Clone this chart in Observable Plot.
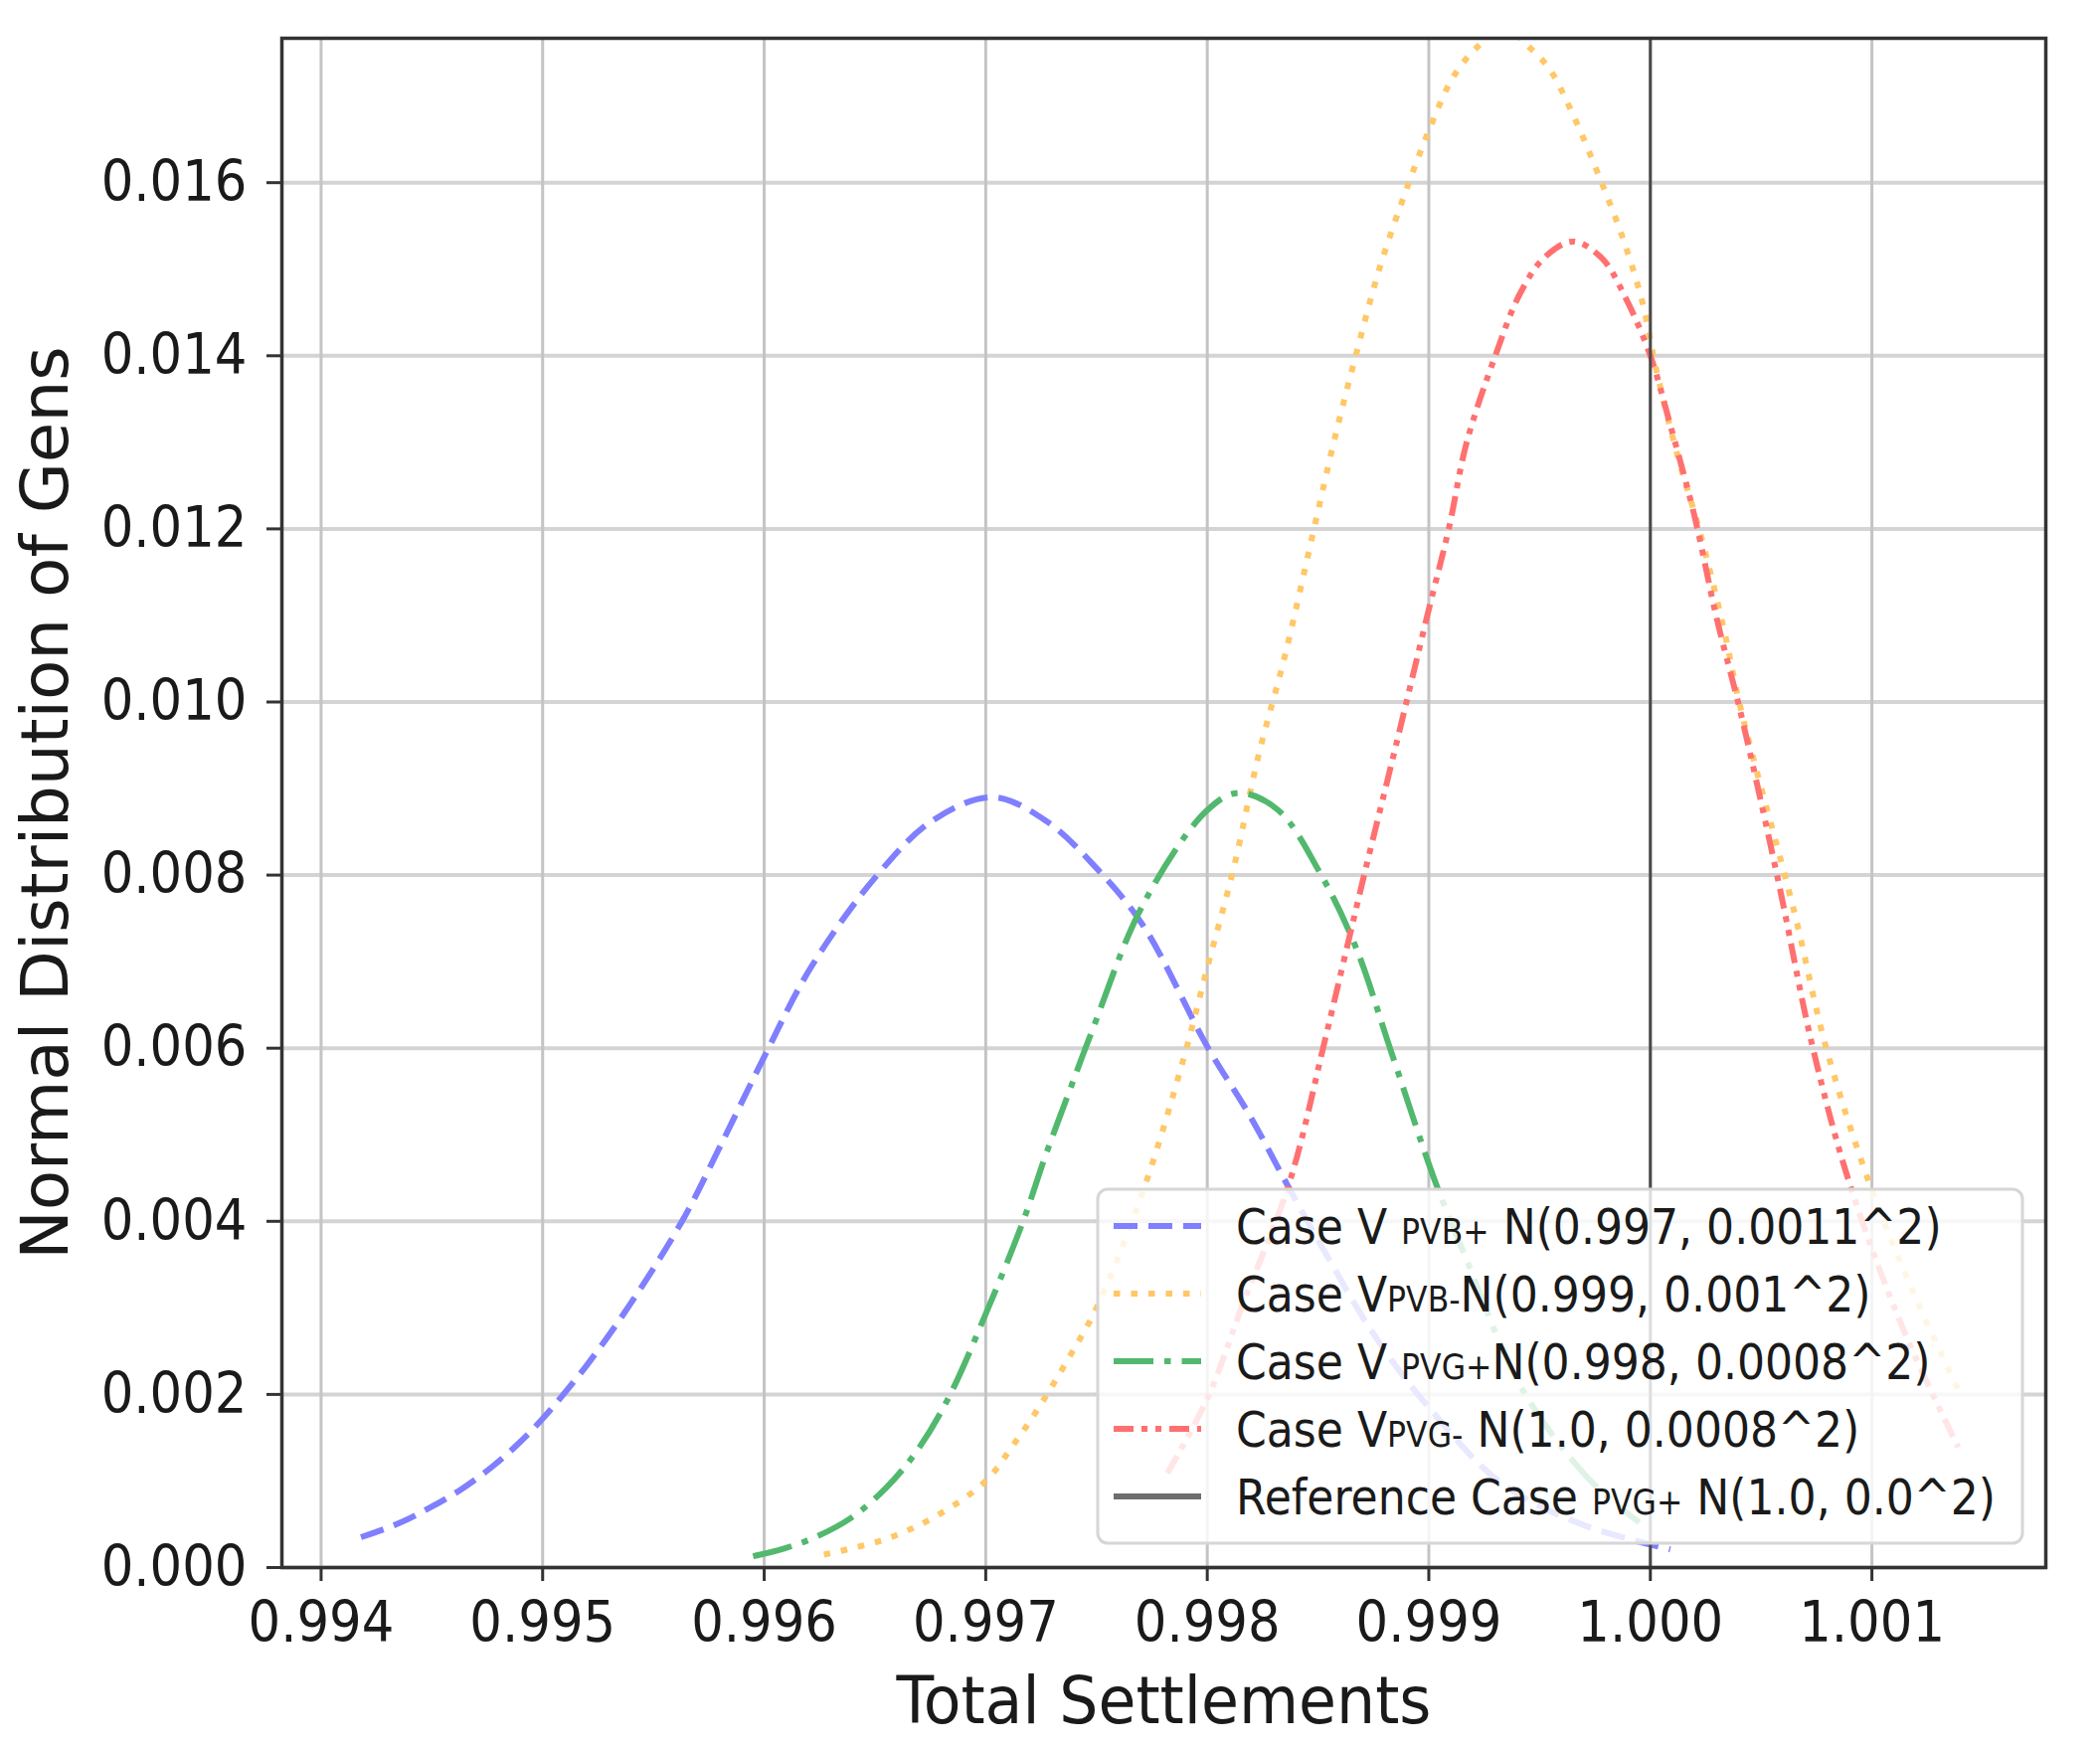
<!DOCTYPE html>
<html><head><meta charset="utf-8">
<script src="https://cdn.jsdelivr.net/npm/d3@7"></script>
<script src="https://cdn.jsdelivr.net/npm/@observablehq/plot@0.6"></script>
<style>
html,body{margin:0;padding:0;background:#fff;}
svg text{font-family:"DejaVu Sans",sans-serif;}
</style></head><body><div id="chart"></div>
<script>
// ---- data ----
const xTicks = [0.994, 0.995, 0.996, 0.997, 0.998, 0.999, 1.000, 1.001];
const yTicks = [0, 0.002, 0.004, 0.006, 0.008, 0.010, 0.012, 0.014, 0.016];

const blueX = [0.99418,0.99435,0.99449,0.99463,0.99477,0.99489,0.995,0.9952,0.99541,0.99564,0.9958,0.996,0.99621,0.99651,0.99676,0.99703,0.99727,0.9975,0.99771,0.998,0.99819,0.99837,0.99853,0.99875,0.99899,0.99933,0.9997,1.00009];
const blueY = [0.00035,0.00051,0.00069,0.0009,0.00116,0.00143,0.00172,0.00234,0.0031,0.00405,0.00486,0.0059,0.00693,0.0080,0.00863,0.0089,0.00863,0.00808,0.00742,0.00602,0.00523,0.00438,0.00365,0.0027,0.00188,0.00097,0.00049,0.00021];

const orangeX = [0.99627,0.99655,0.99678,0.997,0.99712,0.99724,0.99737,0.9975,0.99771,0.99789,0.998,0.99812,0.99823,0.99835,0.99848,0.99857,0.99867,0.99878,0.99891,0.999,0.99911,0.99922,0.99935,0.99943,0.99954,0.99965,0.99978,0.99987,0.99996,1.00003,1.00013,1.00022,1.00033,1.00041,1.00065,1.00079,1.00099,1.0012,1.0014];
const orangeY = [0.00015,0.00033,0.0006,0.001,0.0014,0.00185,0.0024,0.003,0.00435,0.00585,0.00693,0.00809,0.00937,0.01053,0.01198,0.01299,0.014,0.01503,0.016,0.0166,0.01722,0.01757,0.0178,0.01762,0.01733,0.01679,0.016,0.0154,0.01466,0.0138,0.01278,0.012,0.01086,0.0099,0.00757,0.00604,0.00443,0.0031,0.0020];

const greenX = [0.99595,0.99609,0.99623,0.99639,0.99655,0.99669,0.99683,0.997,0.99717,0.99727,0.99738,0.99748,0.99771,0.998,0.99814,0.99832,0.99851,0.99867,0.99883,0.99903,0.99917,0.99942,0.99972,0.99995];
const greenY = [0.00013,0.00022,0.00035,0.00057,0.00092,0.00135,0.00195,0.00293,0.00401,0.00476,0.00552,0.0062,0.00766,0.00875,0.00895,0.00875,0.00802,0.00717,0.00596,0.00445,0.00356,0.00207,0.00103,0.00052];

const redX = [0.99782,0.998,0.99816,0.99837,0.99853,0.99862,0.99871,0.99885,0.999,0.99909,0.99917,0.9993,0.99941,0.99952,0.99965,0.99978,0.99989,1.0,1.00009,1.0002,1.0003,1.00041,1.00058,1.00073,1.0009,1.00115,1.00139];
const redY = [0.00109,0.00195,0.00304,0.00444,0.00608,0.00705,0.00802,0.00948,0.01107,0.012,0.01299,0.014,0.01471,0.01513,0.01532,0.01513,0.01466,0.014,0.0132,0.01214,0.01096,0.00985,0.0079,0.00604,0.00443,0.0027,0.00139];

const refX = [1.0];

const legendMain = ["Case V ", "Case V", "Case V ", "Case V", "Reference Case "];
const legendSub  = ["PVB+", "PVB-", "PVG+", "PVG-", "PVG+"];
const legendTail = [" N(0.997, 0.0011^2)", "N(0.999, 0.001^2)", "N(0.998, 0.0008^2)", " N(1.0, 0.0008^2)", " N(1.0, 0.0^2)"];

// ---- styles ----
const colors = ["#7f7fff", "#ffc766", "#52b86e", "#ff7070", "#6e6e6e"];
const dashes = ["24,11", "6.5,11", "40,11,6.5,11", "20,8,6,8,6,8", null];
const W = 2112, H = 1760, mL = 283, mR = 55, mT = 38, mB = 184;
const xDomain = [0.993823, 1.001785], yDomain = [0, 0.017668];

const rows = (xs, ys) => xs.map((x, i) => ({x, y: ys[i]}));
const lineOpts = {x: "x", y: "y", strokeWidth: 6, clip: true, strokeLinejoin: "round", strokeLinecap: "butt", curve: "catmull-rom"};
const fmt = d3.format(".3f");

const plot = Plot.plot({
  width: W, height: H,
  marginLeft: mL, marginRight: mR, marginTop: mT, marginBottom: mB,
  style: {fontFamily: "DejaVu Sans", fontSize: "57px", color: "#1a1a1a", background: "#fff", overflow: "visible"},
  x: {domain: xDomain, label: null},
  y: {domain: yDomain, label: null},
  marks: [
    Plot.gridY(yTicks, {stroke: "#d4d4d4", strokeOpacity: 1, strokeWidth: 4}),
    Plot.gridX(xTicks, {stroke: "#c4c4c4", strokeOpacity: 1, strokeWidth: 3}),
    Plot.line(rows(blueX, blueY), {...lineOpts, stroke: colors[0], strokeDasharray: dashes[0]}),
    Plot.line(rows(orangeX, orangeY), {...lineOpts, stroke: colors[1], strokeDasharray: dashes[1]}),
    Plot.line(rows(greenX, greenY), {...lineOpts, stroke: colors[2], strokeDasharray: dashes[2]}),
    Plot.line(rows(redX, redY), {...lineOpts, stroke: colors[3], strokeDasharray: dashes[3]}),
    Plot.ruleX(refX, {stroke: "#4a4a4a", strokeWidth: 3}),
    Plot.frame({stroke: "#333", strokeWidth: 3.5}),
    Plot.axisX(xTicks, {tickSize: 14, tickPadding: 20, tickFormat: fmt, stroke: "#333", strokeWidth: 3, fontSize: 57, label: null}),
    Plot.axisY(yTicks, {tickSize: 15, tickPadding: 20, tickFormat: fmt, stroke: "#333", strokeWidth: 3, fontSize: 57, label: null}),
    Plot.text(["Total Settlements"], {text: d => d, frameAnchor: "bottom", textAnchor: "middle", dy: 156, fontSize: 65}),
    Plot.text(["Normal Distribution of Gens"], {text: d => d, frameAnchor: "left", textAnchor: "middle", dx: -237, rotate: -90, fontSize: 66})
  ]
});
document.getElementById("chart").appendChild(plot);

// ---- legend (lower right, inside the frame) ----
const svg = d3.select(plot);
const lgRight = W - mR - 23, lgBottom = H - mB - 24;
const lgW = 930, lgH = 356;
const lgX = lgRight - lgW, lgY = lgBottom - lgH;
const lg = svg.append("g").attr("class", "legend");
lg.append("rect").attr("x", lgX).attr("y", lgY).attr("width", lgW).attr("height", lgH)
  .attr("rx", 10).attr("fill", "#fff").attr("fill-opacity", 0.82)
  .attr("stroke", "#d6d6d6").attr("stroke-width", 3);
for (let i = 0; i < 5; i++) {
  const cy = lgY + 37 + i * 68;
  const ln = lg.append("line").attr("x1", lgX + 16).attr("x2", lgX + 104).attr("y1", cy).attr("y2", cy)
    .attr("stroke", colors[i]).attr("stroke-width", 6);
  if (dashes[i]) ln.attr("stroke-dasharray", dashes[i]);
  const t = lg.append("text").attr("x", lgX + 139).attr("y", cy + 18)
    .attr("text-anchor", "start").style("text-anchor", "start")
    .attr("fill", "#1a1a1a").attr("font-size", 49);
  t.append("tspan").text(legendMain[i]);
  t.append("tspan").attr("font-size", 35).text(legendSub[i]);
  t.append("tspan").text(legendTail[i]);
}

// ---- horizontal squeeze of text (reference text is narrow) ----
svg.selectAll("text").each(function() {
  const el = this;
  if (el.textContent === "Normal Distribution of Gens") return;
  const k = el.textContent === "Total Settlements" ? 0.95 : 0.9;
  const bb = el.getBBox();
  const anchor = getComputedStyle(el).textAnchor;
  const ax = anchor === "end" ? bb.x + bb.width : anchor === "middle" ? bb.x + bb.width / 2 : bb.x;
  const t = el.getAttribute("transform") || "";
  el.setAttribute("transform", `${t} translate(${ax},0) scale(${k},1) translate(${-ax},0)`);
});
</script></body></html>
